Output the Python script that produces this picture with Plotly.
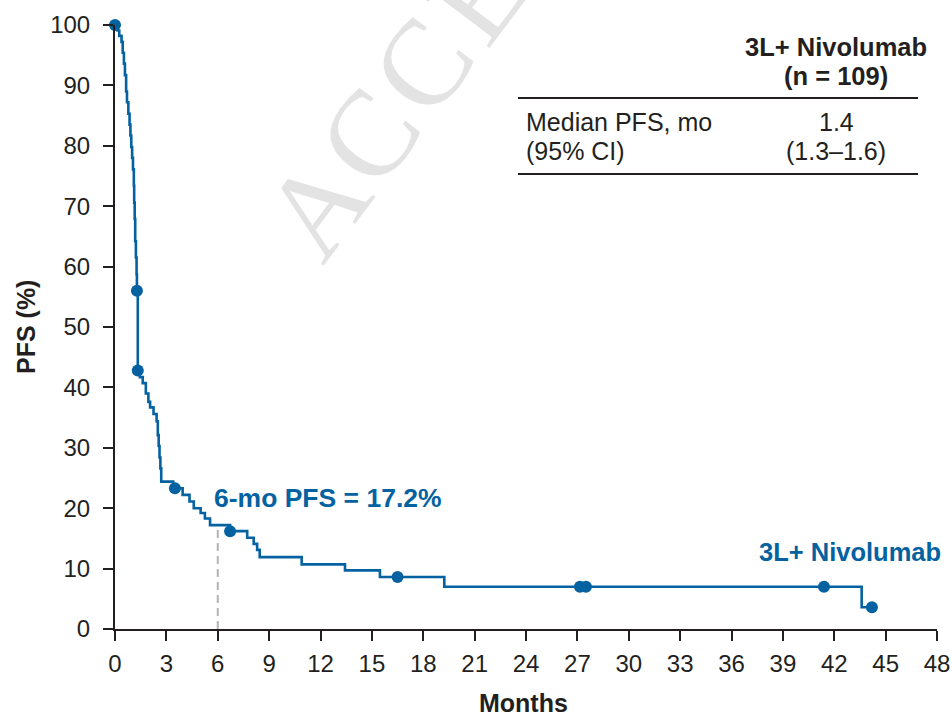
import plotly.graph_objects as go

# ---------------- data ----------------
km_months = [0, 0.15, 0.25, 0.38, 0.45, 0.52, 0.58, 0.65, 0.70, 0.78, 0.85, 0.90, 0.95,
             1.00, 1.05, 1.10, 1.12, 1.15, 1.18, 1.22, 1.26, 1.28, 1.33, 1.45, 1.62,
             1.80, 1.95, 2.05, 2.25, 2.43, 2.50, 2.55, 2.60, 2.65, 2.70, 3.40, 3.95,
             4.35, 4.60, 5.00, 5.25, 5.55, 6.72, 7.72, 8.10, 8.30, 8.45, 10.90, 13.43,
             15.47, 19.23, 43.60, 44.20]
km_pfs = [100, 99.1, 98.2, 97.2, 95.4, 93.6, 91.7, 89.0, 87.2, 85.3, 83.5, 81.7, 79.8,
          78.0, 76.1, 73.4, 70.6, 67.9, 64.2, 61.5, 58.7, 56.0, 42.8, 41.7, 40.7,
          39.0, 37.6, 36.7, 35.6, 34.4, 32.1, 30.3, 28.4, 26.6, 24.4, 23.3, 22.2,
          21.1, 20.0, 19.2, 18.3, 17.2, 16.2, 15.1, 14.1, 13.1, 11.9, 10.7, 9.7,
          8.6, 7.0, 3.6, 3.6]

censor_months = [0, 1.28, 1.33, 3.5, 6.72, 16.5, 27.15, 27.5, 41.4, 44.2]
censor_pfs = [100, 56.0, 42.8, 23.3, 16.2, 8.6, 7.0, 7.0, 7.0, 3.6]

landmark_month = 6
landmark_pfs = 17.2

x_ticks = list(range(0, 49, 3))
y_ticks = list(range(0, 101, 10))

series_name = "3L+ Nivolumab"
table_header = ["3L+ Nivolumab", "(n = 109)"]
table_rows = [("Median PFS, mo", "1.4"), ("(95% CI)", "(1.3–1.6)")]
watermark_letters = ["A", "C", "C", "E"]

# ---------------- styling ----------------
BLUE = "#0462a1"
INK = "#231f20"
FONT = "Liberation Sans, Arial, Helvetica, sans-serif"
W, H = 952, 717
ML, MR, MT, MB = 115, 15, 25, 88
PW, PH = W - ML - MR, H - MT - MB


def px_x(px):
    return (px - ML) / PW


def px_y(py):
    return (H - MB - py) / PH


fig = go.Figure()

# landmark dashed line
fig.add_trace(go.Scatter(
    x=[landmark_month, landmark_month], y=[0, landmark_pfs], mode="lines",
    line=dict(color="#b3b3b3", width=2, dash="8px,5px"), hoverinfo="skip",
    showlegend=False))

# KM step curve
fig.add_trace(go.Scatter(
    x=km_months, y=km_pfs, mode="lines", line=dict(color=BLUE, width=2.6, shape="hv"),
    name=series_name, showlegend=False, cliponaxis=False))

# censor marks
fig.add_trace(go.Scatter(
    x=censor_months, y=censor_pfs, mode="markers",
    marker=dict(color=BLUE, size=12), showlegend=False, cliponaxis=False))

annotations = []

# watermark letters
wm_pos = [(316, 206), (368, 136), (422, 66), (476, -4)]
for ch, (wx, wy) in zip(watermark_letters, wm_pos):
    annotations.append(dict(
        text=ch, xref="paper", yref="paper", x=px_x(wx), y=px_y(wy),
        xanchor="center", yanchor="middle", showarrow=False, textangle=-53,
        font=dict(family="Liberation Serif, Times New Roman, serif", size=122,
                  color="#e3e3e3")))

# in-plot labels
annotations.append(dict(
    text=f"<b>{landmark_month}-mo PFS = {landmark_pfs}%</b>", xref="paper", yref="paper",
    x=px_x(212), y=px_y(498), xanchor="left", yanchor="middle", showarrow=False,
    font=dict(family=FONT, size=26.5, color=BLUE)))
annotations.append(dict(
    text=f"<b>{series_name}</b>", xref="paper", yref="paper",
    x=px_x(757), y=px_y(552), xanchor="left", yanchor="middle", showarrow=False,
    font=dict(family=FONT, size=25.5, color=BLUE)))

# axis titles
annotations.append(dict(
    text="<b>Months</b>", xref="paper", yref="paper", x=px_x(523), y=px_y(703),
    xanchor="center", yanchor="middle", showarrow=False,
    font=dict(family=FONT, size=25, color=INK)))
annotations.append(dict(
    text="<b>PFS (%)</b>", xref="paper", yref="paper", x=px_x(26), y=px_y(327),
    xanchor="center", yanchor="middle", showarrow=False, textangle=-90,
    font=dict(family=FONT, size=25, color=INK)))

# table
col_x = 836
for txt, ty in zip(table_header, [47, 76]):
    annotations.append(dict(
        text=f"<b>{txt}</b>", xref="paper", yref="paper", x=px_x(col_x), y=px_y(ty),
        xanchor="center", yanchor="middle", showarrow=False,
        font=dict(family=FONT, size=25.5, color=INK)))
for (lab, val), ty in zip(table_rows, [122, 151]):
    annotations.append(dict(
        text=lab, xref="paper", yref="paper", x=px_x(524), y=px_y(ty),
        xanchor="left", yanchor="middle", showarrow=False,
        font=dict(family=FONT, size=25, color=INK)))
    annotations.append(dict(
        text=val, xref="paper", yref="paper", x=px_x(col_x), y=px_y(ty),
        xanchor="center", yanchor="middle", showarrow=False,
        font=dict(family=FONT, size=25, color=INK)))

shapes = []
for ly in [98, 174]:
    shapes.append(dict(type="line", xref="paper", yref="paper",
                       x0=px_x(518), x1=px_x(918), y0=px_y(ly), y1=px_y(ly),
                       line=dict(color=INK, width=2)))

axis_common = dict(
    showline=True, linecolor=INK, linewidth=2, ticks="outside", ticklen=10,
    tickwidth=2, tickcolor=INK, showgrid=False, zeroline=False,
    tickfont=dict(family=FONT, size=24, color=INK), fixedrange=True)

fig.update_layout(
    width=W, height=H, margin=dict(l=ML, r=MR, t=MT, b=MB, autoexpand=False),
    plot_bgcolor="white", paper_bgcolor="white", showlegend=False,
    xaxis=dict(range=[0, 48], tickvals=x_ticks, ticktext=[str(v) for v in x_ticks],
               ticklabelstandoff=2, **axis_common),
    yaxis=dict(range=[0, 100], tickvals=y_ticks, ticktext=[str(v) for v in y_ticks],
               ticklabelstandoff=8, **axis_common),
    annotations=annotations, shapes=shapes,
)

fig.write_html("out.html", config={"displayModeBar": False},
               post_script="document.body.style.margin='0';document.body.style.overflow='hidden';")
